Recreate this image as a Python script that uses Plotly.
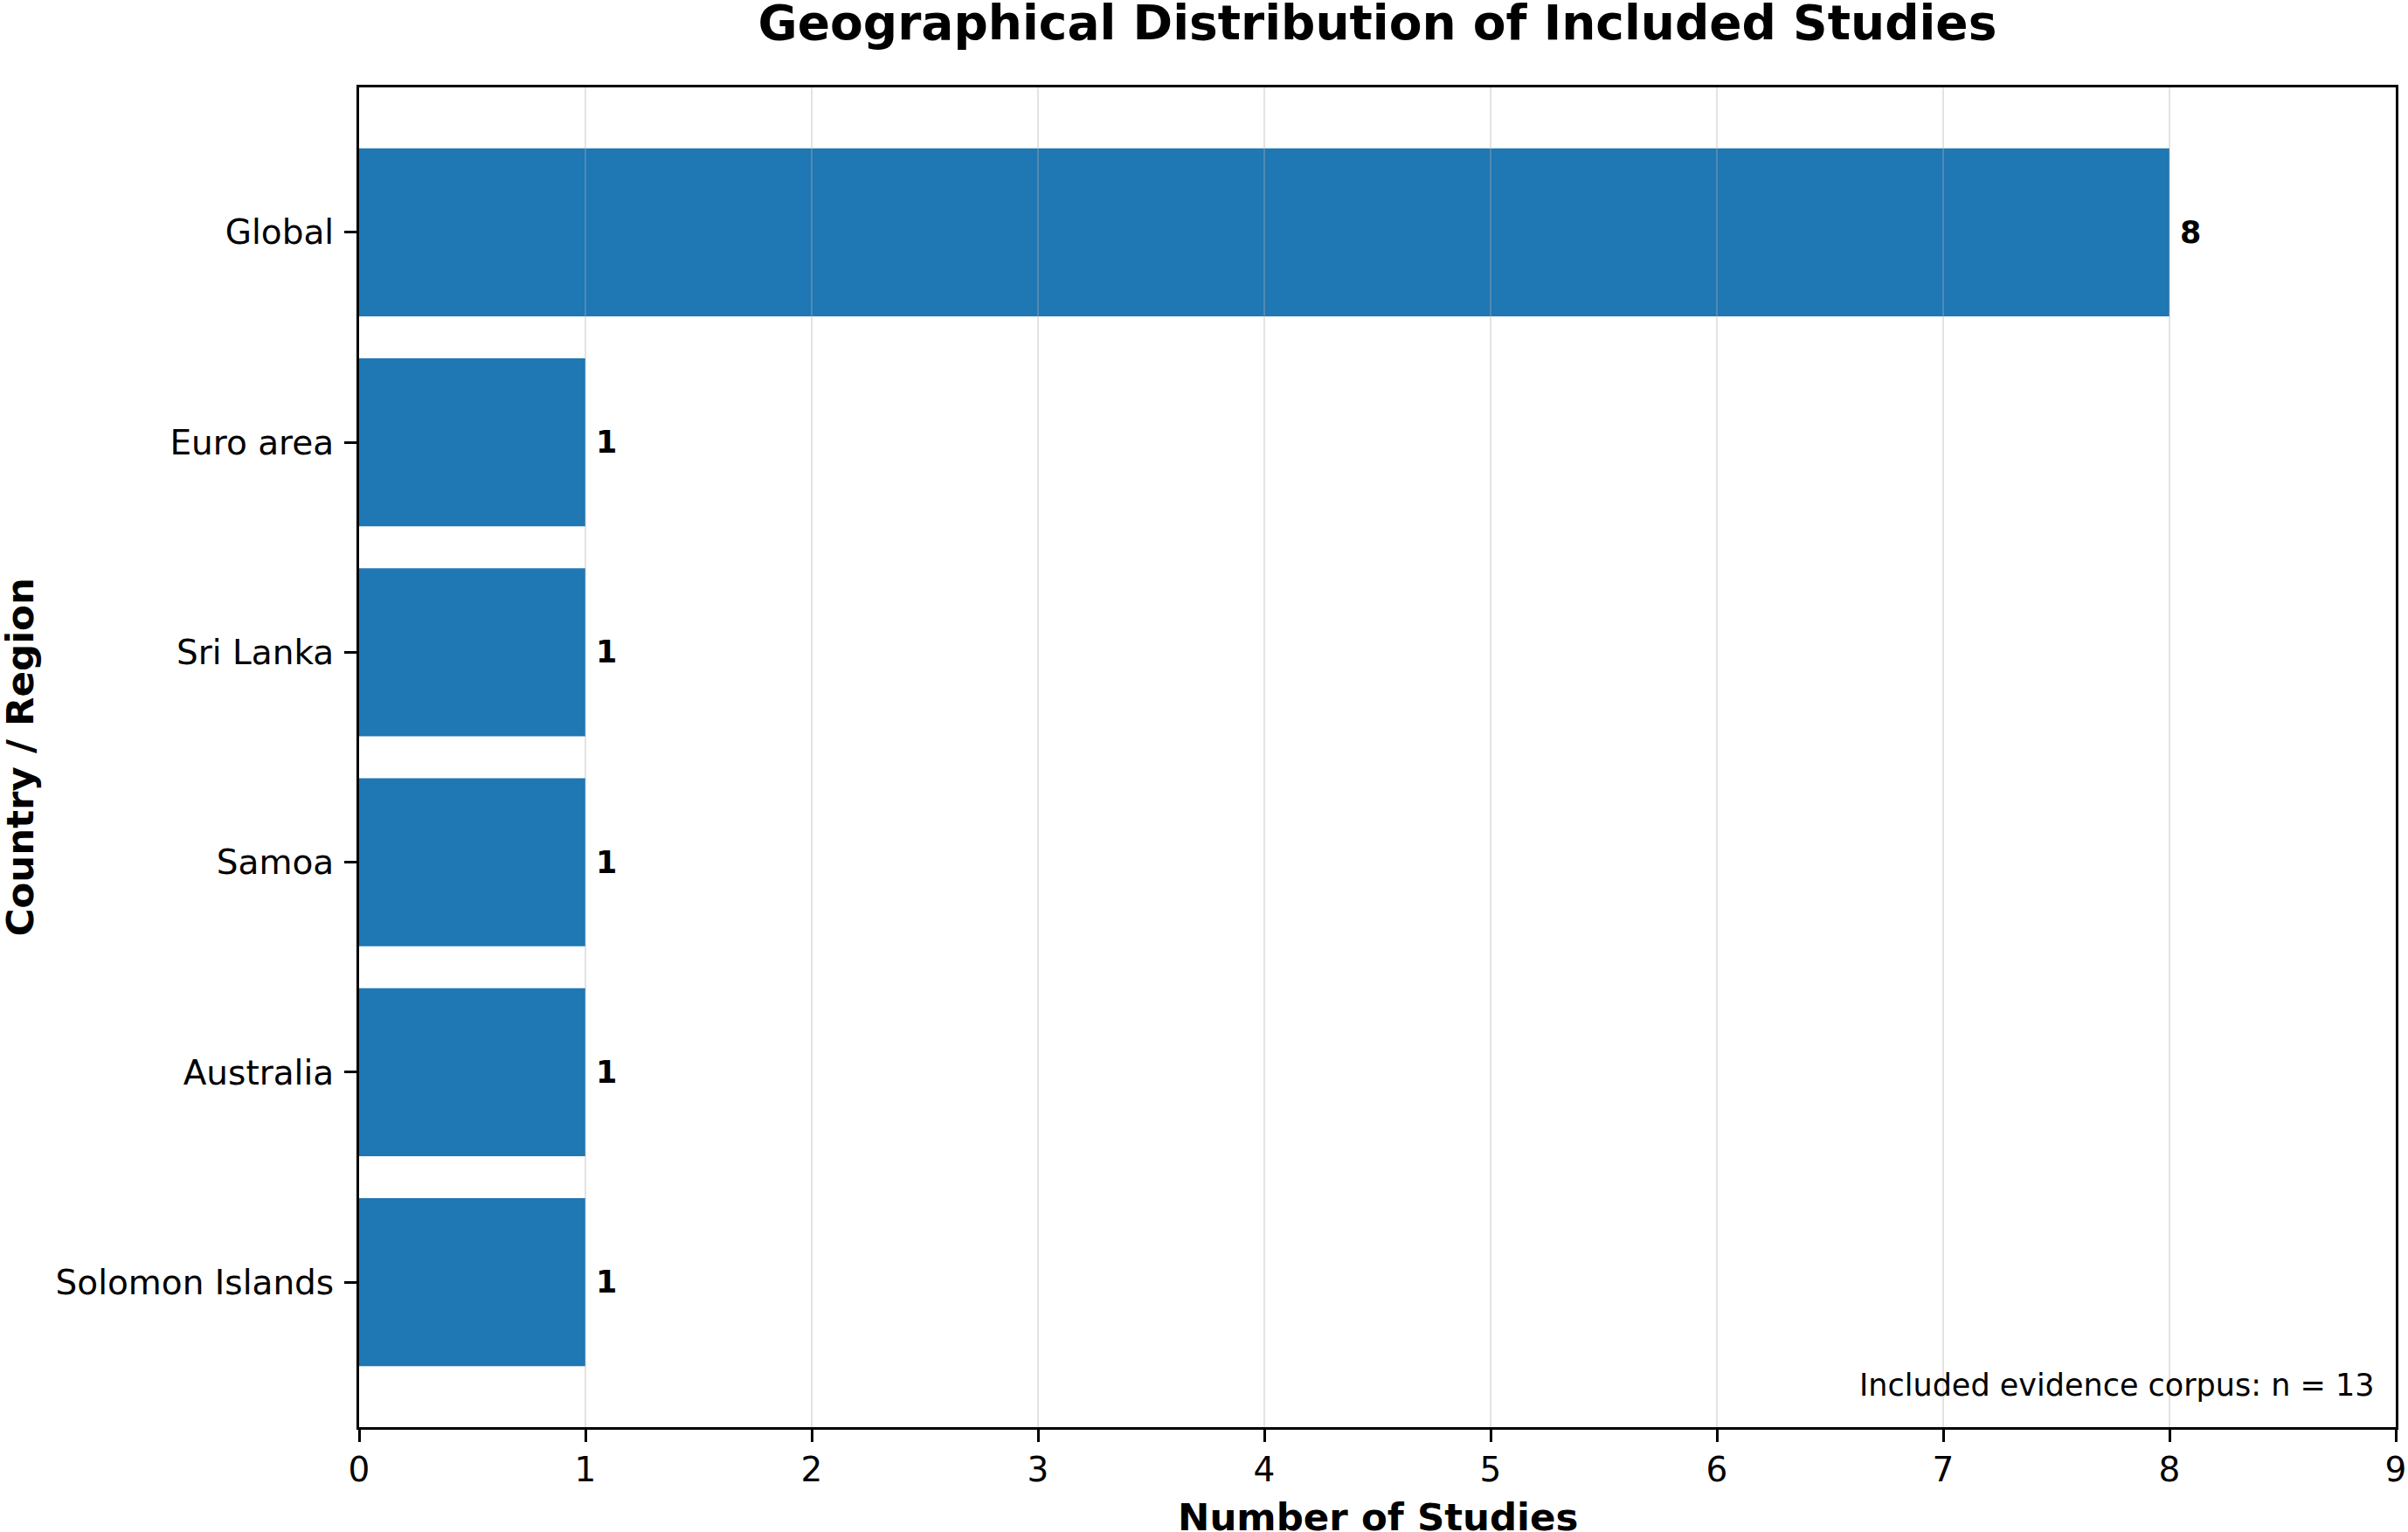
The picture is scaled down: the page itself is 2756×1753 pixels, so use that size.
import plotly.graph_objects as go

# Data
regions = ["Global", "Euro area", "Sri Lanka", "Samoa", "Australia", "Solomon Islands"]
study_counts = [8, 1, 1, 1, 1, 1]
x_ticks = [0, 1, 2, 3, 4, 5, 6, 7, 8, 9]
corpus_note = "Included evidence corpus: n = 13"

W, H = 2756, 1753
M_L, M_R, M_T, M_B = 411, 14, 100, 120
PLOT_W, PLOT_H = W - M_L - M_R, H - M_T - M_B
FONT = "DejaVu Sans"
BAR_COLOR = "#1f77b4"

fig = go.Figure()
fig.add_bar(
    y=regions,
    x=study_counts,
    orientation="h",
    width=0.8,
    marker=dict(color=BAR_COLOR, line=dict(width=0)),
    hoverinfo="x+y",
)

# value labels just past the end of each bar
for name, val in zip(regions, study_counts):
    fig.add_annotation(
        x=val + 0.04, y=name, xref="x", yref="y",
        text=f"<b>{val}</b>", showarrow=False,
        xanchor="left", yanchor="middle",
        font=dict(family=FONT, size=35, color="black"),
    )

# matplotlib draws the grid over the bars with some alpha
for t in x_ticks[1:-1]:
    fig.add_shape(
        type="line", xref="x", yref="paper",
        x0=t, x1=t, y0=0, y1=1,
        line=dict(color="rgba(176,176,176,0.35)", width=2),
        layer="above",
    )

fig.add_annotation(
    x=0.99, y=0.017, xref="paper", yref="paper",
    text=corpus_note, showarrow=False,
    xanchor="right", yanchor="bottom",
    font=dict(family=FONT, size=35, color="black"),
)

# axis titles, placed like matplotlib's labels
fig.add_annotation(
    x=0.5, y=-(1736 - (H - M_B)) / PLOT_H, xref="paper", yref="paper",
    text="<b>Number of Studies</b>", showarrow=False,
    xanchor="center", yanchor="middle",
    font=dict(family=FONT, size=43.5, color="black"),
)
fig.add_annotation(
    x=(22 - M_L) / PLOT_W, y=0.5, xref="paper", yref="paper",
    text="<b>Country / Region</b>", showarrow=False, textangle=-90,
    xanchor="center", yanchor="middle",
    font=dict(family=FONT, size=43.5, color="black"),
)

fig.update_layout(
    width=W, height=H,
    margin=dict(l=M_L, r=M_R, t=M_T, b=M_B, autoexpand=False),
    paper_bgcolor="white",
    plot_bgcolor="white",
    showlegend=False,
    font=dict(family=FONT, color="black"),
    title=dict(
        text="<b>Geographical Distribution of Included Studies</b>",
        x=0.5, xref="paper", xanchor="center",
        y=1 - 26 / H, yref="container", yanchor="middle",
        font=dict(family=FONT, size=55, color="black"),
    ),
    bargap=0.2,
)

fig.update_xaxes(
    range=[0, 9],
    tickvals=x_ticks,
    ticks="outside", ticklen=14, tickwidth=3, tickcolor="black",
    ticklabelstandoff=-2,
    tickfont=dict(family=FONT, size=39, color="black"),
    showgrid=False,
    zeroline=False,
    showline=True, linecolor="black", linewidth=3, mirror=True,
    automargin=False,
)

fig.update_yaxes(
    categoryorder="array",
    categoryarray=regions[::-1],
    range=[-0.69, 5.69],
    ticks="outside", ticklen=14, tickwidth=3, tickcolor="black",
    ticklabelstandoff=4,
    tickfont=dict(family=FONT, size=39, color="black"),
    showgrid=False,
    zeroline=False,
    showline=True, linecolor="black", linewidth=3, mirror=True,
    automargin=False,
)

# drop the default 8px page margin so the figure fills the window
fig.write_html(
    "out.html",
    config={"displayModeBar": False},
    post_script="document.body.style.margin = '0';",
)
